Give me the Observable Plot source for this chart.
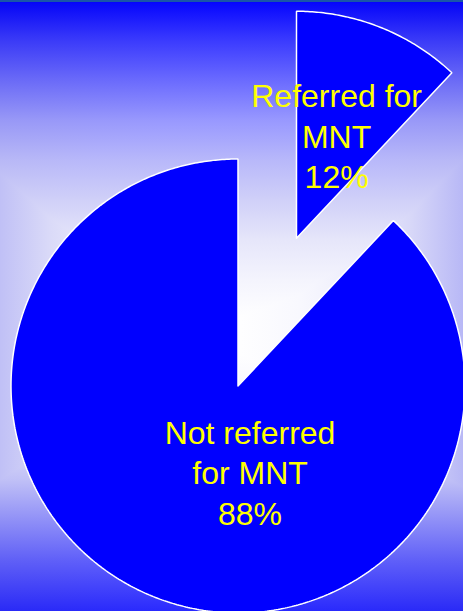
<!DOCTYPE html>
<html>
<head>
<meta charset="utf-8">
<script src="https://cdn.jsdelivr.net/npm/d3@7"></script>
<script src="https://cdn.jsdelivr.net/npm/@observablehq/plot@0.6"></script>
<style>
  html, body { margin: 0; padding: 0; }
  #chart {
    width: 463px; height: 611px; overflow: hidden;
    background:
      linear-gradient(to bottom, #1a55a8 0px, #1a55a8 2px, rgba(0,0,0,0) 2px),
      linear-gradient(to bottom, #0000ff 0px, #0606ff 3px, #3a3aff 40px, #6a6aff 80px, #9898ff 120px, #b8b8fa 160px, #d0d0f8 200px, #e6e6fa 240px, #f4f4fd 280px, #ffffff 320px, #ffffff 350px, #f4f4fd 400px, #e0e0fa 440px, #c0c0f8 480px, #9090ff 520px, #6060ff 560px, #2a2aff 611px),
      linear-gradient(to right, #c0c0f6 0px, #dadaf8 50px, #ececfb 100px, #f8f8fe 160px, #ffffff 231px, #f8f8fe 300px, #ececfb 360px, #d8d8f8 410px, #b8b8f6 463px);
    background-blend-mode: normal, darken, normal;
  }
</style>
</head>
<body>
<div id="chart"></div>
<script>
// ---- data ----
const categories = ["Referred for MNT", "Not referred for MNT"];
const labelText = ["Referred for\nMNT", "Not referred\nfor MNT"];
const values = [12, 88];
const explode = [0.70, 0];

// ---- layout (not data) ----
const W = 463, H = 611;
const cx = 237.5, cy = 385.5, R = 227; // pixel placement of the pie
const labelPos = [
  (mid, off) => [off[0] + 0.48 * Math.sin(mid), off[1] + 0.49 * Math.cos(mid)],
  () => [0.053, -0.375]
];

const data = categories.map((c, i) => ({category: c, value: values[i], label: labelText[i], explode: explode[i]}));
const arcs = d3.pie().sort(null).value(d => d.value).startAngle(0).endAngle(2 * Math.PI)(data);

const outline = [];
const labels = [];
arcs.forEach((a, i) => {
  const mid = (a.startAngle + a.endAngle) / 2;
  const off = [a.data.explode * Math.sin(mid), a.data.explode * Math.cos(mid)];
  const n = Math.max(8, Math.ceil((a.endAngle - a.startAngle) / 0.01));
  outline.push({category: a.data.category, x: off[0], y: off[1]});
  for (let k = 0; k <= n; k++) {
    const t = a.startAngle + (a.endAngle - a.startAngle) * k / n;
    outline.push({category: a.data.category, x: off[0] + Math.sin(t), y: off[1] + Math.cos(t)});
  }
  outline.push({category: a.data.category, x: off[0], y: off[1]});
  const [lx, ly] = labelPos[i](mid, off);
  const pct = Math.round(100 * a.data.value / d3.sum(values)) + "%";
  labels.push({x: lx, y: ly, text: a.data.label + "\n" + pct});
});

const plot = Plot.plot({
  width: W,
  height: H,
  margin: 0,
  style: {background: "transparent", fontFamily: "'Liberation Sans', Arial, sans-serif", overflow: "visible"},
  x: {type: "linear", domain: [-cx / R, (W - cx) / R], range: [0, W], axis: null},
  y: {type: "linear", domain: [-(H - cy) / R, cy / R], range: [H, 0], axis: null},
  marks: [
    Plot.line(outline, {x: "x", y: "y", z: "category", fill: "#0000ff", stroke: "white", strokeWidth: 1.5, strokeLinejoin: "miter", curve: "linear"}),
    Plot.text(labels, {x: "x", y: "y", text: "text", fill: "#ffff00", fontSize: 32, lineHeight: 1.27, lineAnchor: "middle", textAnchor: "middle"})
  ]
});
document.getElementById("chart").append(plot);
</script>
</body>
</html>
